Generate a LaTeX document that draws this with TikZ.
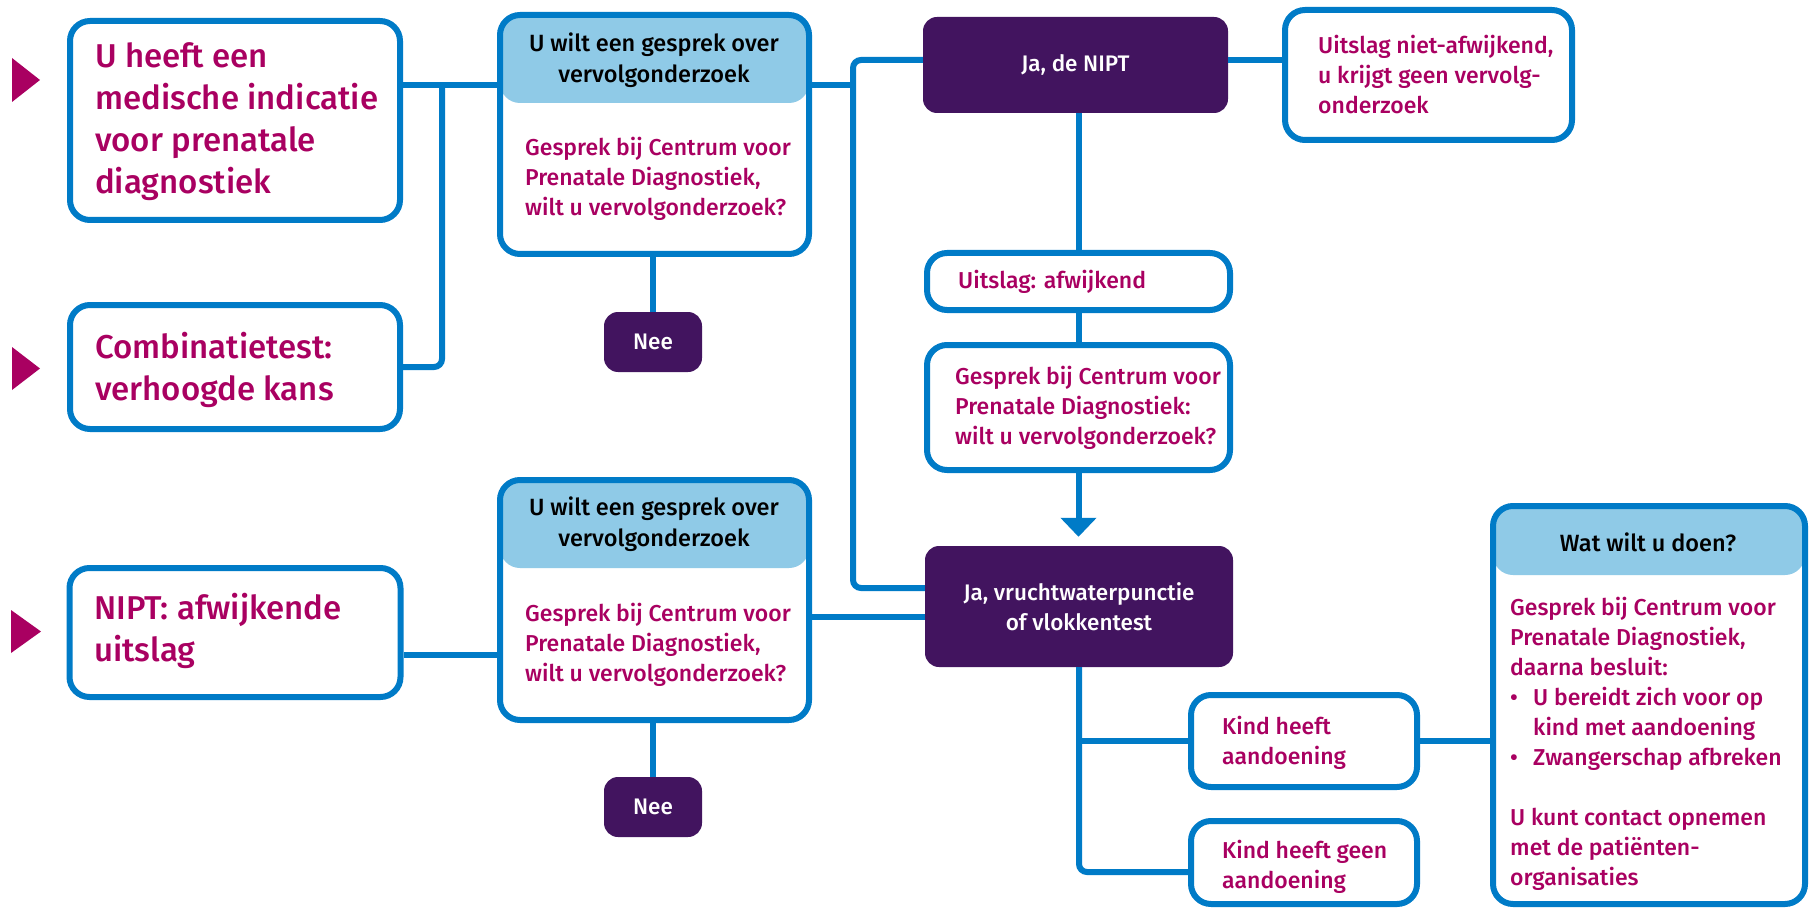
\documentclass[tikz,border=0pt]{standalone}
\usepackage{fontspec}
\setmainfont{Fira Sans}[UprightFont=* Medium]
\usetikzlibrary{arrows.meta}

\definecolor{rivmblauw}{HTML}{007BC7}
\definecolor{lichtblauw}{HTML}{8FCAE7}
\definecolor{violet}{HTML}{A90061}
\definecolor{paars}{HTML}{42145F}

\tikzset{
  vak/.style={draw=rivmblauw, line width=6pt, rounded corners=20pt, fill=white, inner sep=0pt},
  kopvak/.style={vak, path picture={\fill[lichtblauw] ([yshift=5pt]path picture bounding box.north west) rectangle ([yshift=-#1]path picture bounding box.north east);}},
  donker/.style={fill=paars, rounded corners=14pt, text=white, inner sep=0pt, align=center, font=\fontsize{22.5}{30}\selectfont},
  groot/.style={text=violet, font=\fontsize{33}{42}\selectfont, align=left, anchor=west, inner sep=0pt},
  tekst/.style={text=violet, font=\fontsize{23}{30}\selectfont, align=left, anchor=west, inner sep=0pt},
  kop/.style={text=black, font=\fontsize{23.5}{31}\selectfont, align=center, inner sep=0pt},
  lijn/.style={draw=rivmblauw, line width=6pt, rounded corners=8pt}
}

\begin{document}
\begin{tikzpicture}[x=1pt, y=-1pt]
    \useasboundingbox (0,0) rectangle (1814,909);
    % startpunten
    \fill[violet] (12,58) -- (40,80) -- (12,102) -- cycle;
    \fill[violet] (12,347) -- (40,368.5) -- (12,390) -- cycle;
    \fill[violet] (11,610) -- (41,631.5) -- (11,653) -- cycle;
    \node[vak, minimum width=330, minimum height=199] (indicatie) at (235,120.5) {};
    \node[groot] (indicatieTxt) at (95,122) {U heeft een\\medische indicatie\\voor prenatale\\diagnostiek};
    \node[vak, minimum width=330, minimum height=124] (combinatie) at (235,367) {};
    \node[groot] (combinatieTxt) at (95,370) {Combinatietest:\\verhoogde kans};
    \node[vak, minimum width=331, minimum height=129] (nipt) at (235,632.5) {};
    \node[groot] (niptTxt) at (94,631) {NIPT: afwijkende\\uitslag};
    % gesprekken
    \node[kopvak=88pt, minimum width=309, minimum height=239] (gesprekA) at (654.5,134.5) {};
    \node[kop] (gesprekAKop) at (654,60) {U wilt een gesprek over\\vervolgonderzoek};
    \node[tekst] (gesprekATxt) at (525,179) {Gesprek bij Centrum voor\\Prenatale Diagnostiek,\\wilt u vervolgonderzoek?};
    \node[donker, minimum width=98, minimum height=60] (neeA) at (653,342) {Nee};
    \node[kopvak=88pt, minimum width=309, minimum height=240] (gesprekB) at (654.5,600) {};
    \node[kop] (gesprekBKop) at (654,524) {U wilt een gesprek over\\vervolgonderzoek};
    \node[tekst] (gesprekBTxt) at (525,645) {Gesprek bij Centrum voor\\Prenatale Diagnostiek,\\wilt u vervolgonderzoek?};
    \node[donker, minimum width=98, minimum height=60] (neeB) at (653,807) {Nee};
    % onderzoek
    \node[donker, minimum width=305, minimum height=96] (jaNipt) at (1075.5,65) {Ja, de NIPT};
    \node[vak, minimum width=287, minimum height=130] (normaal) at (1428.5,75) {};
    \node[tekst] (normaalTxt) at (1318,75) {Uitslag niet-afwijkend,\\u krijgt geen vervolg-\\onderzoek};
    \node[vak, minimum width=303, minimum height=57] (afwijkend) at (1078.5,281.5) {};
    \node[tekst] (afwijkendTxt) at (958,282) {Uitslag: afwijkend};
    \node[vak, minimum width=303, minimum height=125] (gesprekC) at (1078.5,407.5) {};
    \node[tekst] (gesprekCTxt) at (955,408) {Gesprek bij Centrum voor\\Prenatale Diagnostiek:\\wilt u vervolgonderzoek?};
    \node[donker, minimum width=308, minimum height=121] (vrucht) at (1079,606.5) {Ja, vruchtwaterpunctie\\of vlokkentest};
    % uitslag
    \node[vak, minimum width=226, minimum height=92] (kind) at (1304,741) {};
    \node[tekst] (kindTxt) at (1222,743) {Kind heeft\\aandoening};
    \node[vak, minimum width=226, minimum height=83] (kindGeen) at (1304,862.5) {};
    \node[tekst] (kindGeenTxt) at (1222,867) {Kind heeft geen\\aandoening};
    \node[kopvak=69pt, minimum width=312, minimum height=398] (doen) at (1649,705) {};
    \node[kop] (doenKop) at (1648,542) {Wat wilt u doen?};
    \node[tekst] (doenTxt) at (1510,743.5) {Gesprek bij Centrum voor\\Prenatale Diagnostiek,\\daarna besluit:\\
      \makebox[23pt][l]{\textbullet}U bereidt zich voor op\\\hspace*{23pt}kind met aandoening\\
      \makebox[23pt][l]{\textbullet}Zwangerschap afbreken\\[30pt]U kunt contact opnemen\\met de pati\"enten-\\organisaties};
    % lijnen
    \coordinate (knik1) at (442,85);
    \coordinate (knik2) at (853,60);
    \coordinate (knik3) at (853,588);
    \coordinate (knik4) at (1079,872);
    \coordinate (knik5) at (450,655);
    \coordinate (knik6) at (900,617);
    \draw[lijn] (indicatie.east |- knik1) -- (gesprekA.west |- knik1);
    \draw[lijn] (combinatie.east) -- (knik1 |- combinatie.east) -- (knik1);
    \draw[lijn] (gesprekA.east |- knik1) -- (knik2 |- knik1);
    \draw[lijn] (jaNipt.west |- knik2) -- (knik2) -- (knik3) -- (vrucht.west |- knik3);
    \draw[lijn] (neeA.north |- gesprekA.south) -- (neeA.north);
    \draw[lijn] (nipt.east |- knik5) -- (gesprekB.west |- knik5);
    \draw[lijn] (gesprekB.east |- knik6) -- (vrucht.west |- knik6);
    \draw[lijn] (neeB.north |- gesprekB.south) -- (neeB.north);
    \draw[lijn] (jaNipt.east |- knik2) -- (normaal.west |- knik2);
    \draw[lijn] (afwijkend.north |- jaNipt.south) -- (afwijkend.north);
    \draw[lijn] (afwijkend.south) -- (gesprekC.north);
    \draw[lijn, -{Triangle[width=35pt,length=19pt]}, shorten >=9pt] (gesprekC.south) -- (gesprekC.south |- vrucht.north);
    \draw[lijn] (vrucht.south) -- (knik4) -- (kindGeen.west |- knik4);
    \draw[lijn] (vrucht.south |- kind.west) -- (kind.west);
    \draw[lijn] (kind.east) -- (doen.west |- kind.east);
\end{tikzpicture}
\end{document}
